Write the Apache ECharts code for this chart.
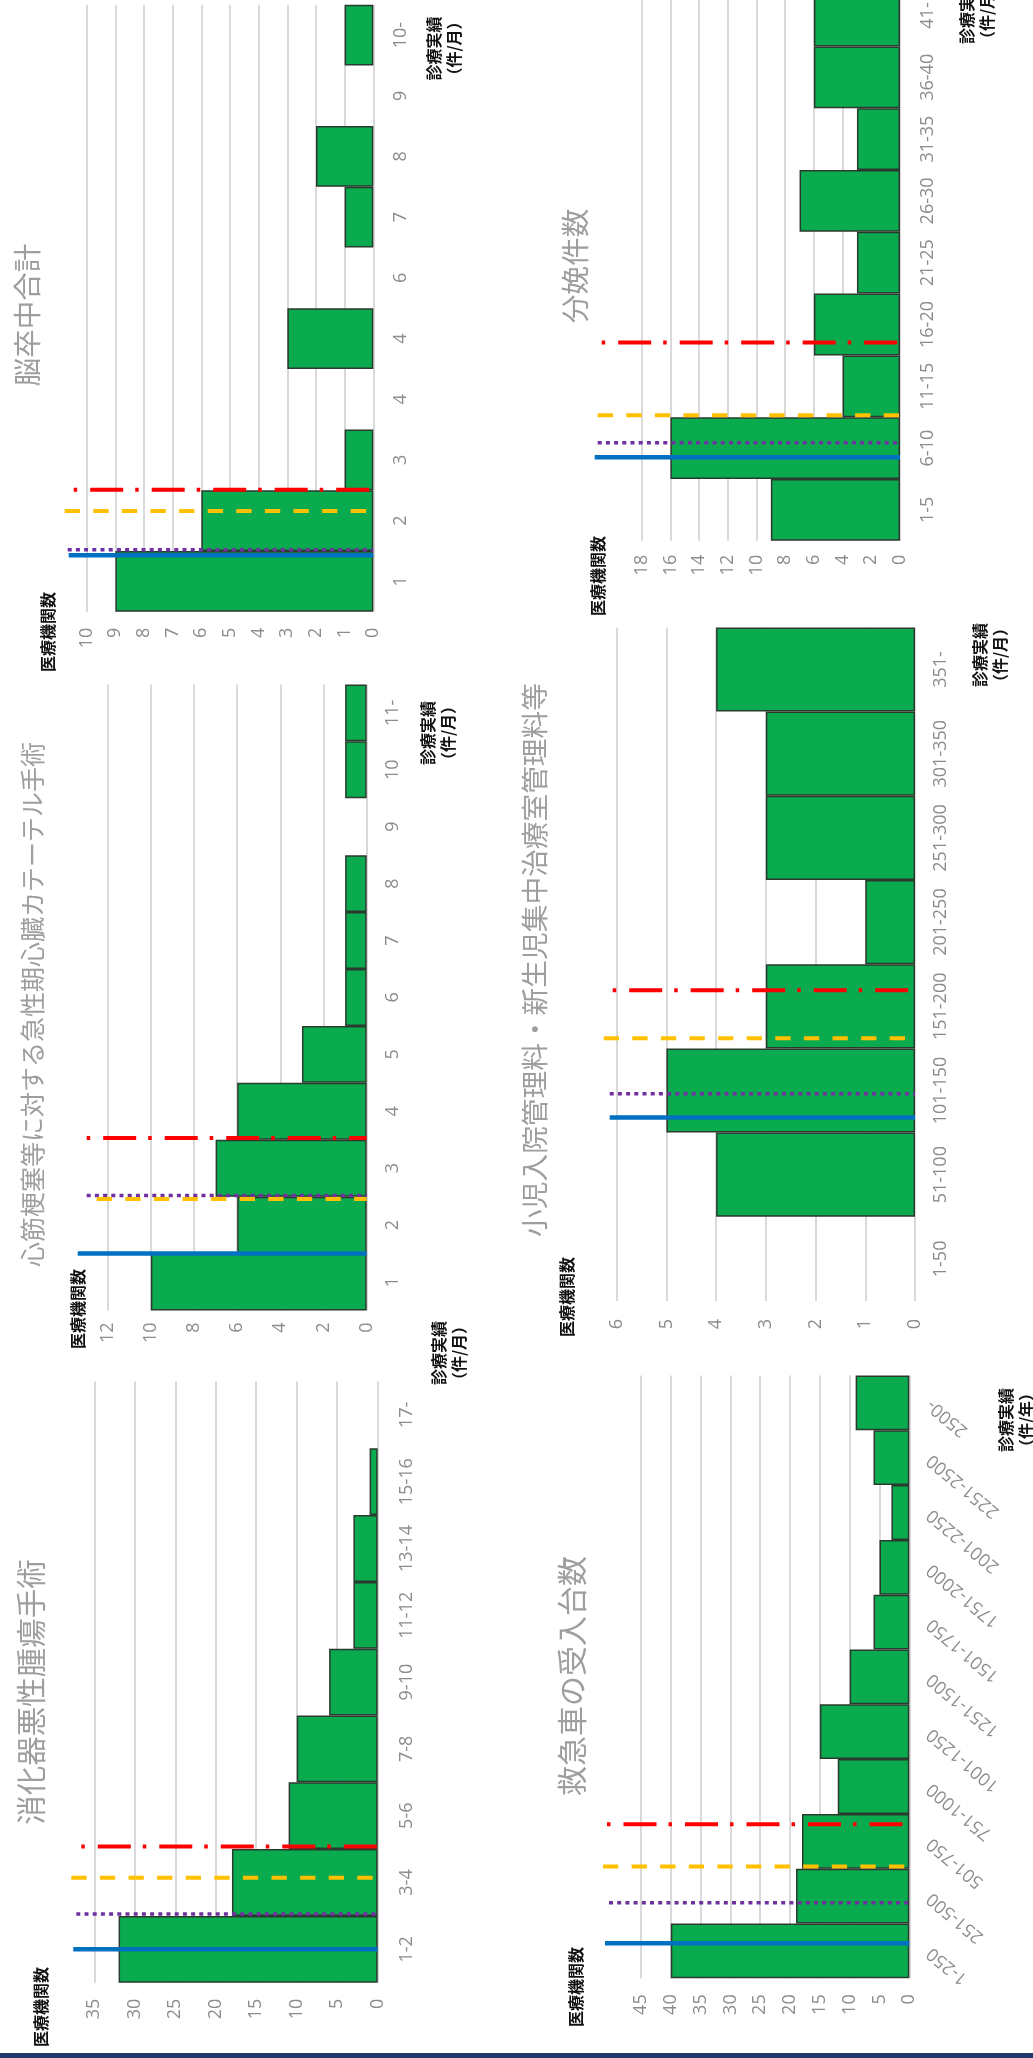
<!DOCTYPE html>
<html><head><meta charset="utf-8">
<script src="https://cdn.jsdelivr.net/npm/echarts@6/dist/echarts.min.js"></script>
<style>html,body{margin:0;padding:0;background:#fff}#c{width:1033px;height:2058px}</style>
</head><body><div id="c"></div>
<script>
// ---------- data ----------
const titleA = '消化器悪性腫瘍手術';
const catsA = ['1-2','3-4','5-6','7-8','9-10','11-12','13-14','15-16','17-'];
const valsA = [32,18,11,10,6,3,3,1,0];
const ticksA = [0,5,10,15,20,25,30,35];
const marksA = [0, 0.53, 1.07, 1.54]; // blue, purple, yellow, red (category position)

const titleB = '心筋梗塞等に対する急性期心臓カテーテル手術';
const catsB = ['1','2','3','4','5','6','7','8','9','10','11-'];
const valsB = [10,6,7,6,3,1,1,1,0,1,1];
const ticksB = [0,2,4,6,8,10,12];
const marksB = [0.5, 1.52, 1.46, 2.53];

const titleC = '脳卒中合計';
const catsC = ['1','2','3','4','4','6','7','8','9','10-'];
const valsC = [9,6,1,0,3,0,1,2,0,1];
const ticksC = [0,1,2,3,4,5,6,7,8,9,10];
const marksC = [0.43, 0.52, 1.16, 1.51];

const titleD = '救急車の受入台数';
const catsD = ['1-250','251-500','501-750','751-1000','1001-1250','1251-1500','1501-1750','1751-2000','2001-2250','2251-2500','2500-'];
const valsD = [40,19,18,12,15,10,6,5,3,6,9];
const ticksD = [0,5,10,15,20,25,30,35,40,45];
const marksD = [0.14, 0.88, 1.54, 2.31];

const titleE = '小児入院管理料・新生児集中治療室管理料等';
const catsE = ['1-50','51-100','101-150','151-200','201-250','251-300','301-350','351-'];
const valsE = [0,4,5,3,1,3,3,4];
const ticksE = [0,1,2,3,4,5,6];
const marksE = [1.68, 1.96, 2.62, 3.19];

const titleF = '分娩件数';
const catsF = ['1-5','6-10','11-15','16-20','21-25','26-30','31-35','36-40','41-'];
const valsF = [9,16,4,6,3,7,3,6,6];
const ticksF = [0,2,4,6,8,10,12,14,16,18];
const marksF = [0.85, 1.085, 1.53, 2.71];

const yName = '医療機関数';
const xNameMonth = '診療実績\n（件/月）';
const xNameYear = '診療実績\n（件/年）';

// ---------- layout / style ----------
const panels = [
  {title:titleA, cats:catsA, vals:valsA, ticks:ticksA, marks:marksA, xName:xNameMonth,
   grid:{left:94.3, top:1381.5, width:283.4, height:601.2}, ext:[-21,-18,-23,-13],
   catRot:90, catMargin:20, valMargin:16,
   t:{x:31, y:1692, s:29.5}, yn:{x:41, y:2007}, xn:{x:449, y:1353}},
  {title:titleB, cats:catsB, vals:valsB, ticks:ticksB, marks:marksB, xName:xNameMonth,
   grid:{left:107.7, top:684.4, width:259, height:626.1}, ext:[-30,-21,-11,-21],
   catRot:90, catMargin:17, valMargin:12,
   t:{x:32, y:1004.5, s:25}, yn:{x:78, y:1309}, xn:{x:438, y:733}},
  {title:titleC, cats:catsC, vals:valsC, ticks:ticksC, marks:marksC, xName:xNameMonth,
   grid:{left:86.7, top:4.7, width:286.6, height:607}, ext:[-18,-19,-22,-13],
   catRot:90, catMargin:19, valMargin:16,
   t:{x:27.5, y:315, s:28.5}, yn:{x:47.5, y:632}, xn:{x:443.5, y:48.5}},
  {title:titleD, cats:catsD, vals:valsD, ticks:ticksD, marks:marksD, xName:xNameYear,
   grid:{left:641, top:1375.5, width:268.3, height:602.8}, ext:[-36,-32,-38,-34],
   catRot:140, catMargin:20, valMargin:16,
   t:{x:572, y:1676, s:30}, yn:{x:576, y:1987}, xn:{x:1016, y:1420}},
  {title:titleE, cats:catsE, vals:valsE, ticks:ticksE, marks:marksE, xName:xNameMonth,
   grid:{left:616.7, top:627.4, width:298.3, height:673.6}, ext:[-7,-7,-13,-4],
   catRot:90, catMargin:17, valMargin:18,
   t:{x:534, y:960, s:27.7}, yn:{x:567, y:1297}, xn:{x:990, y:655}},
  {title:titleF, cats:catsF, vals:valsF, ticks:ticksF, marks:marksF, xName:xNameMonth,
   grid:{left:641.7, top:-15.4, width:258.3, height:556.2}, ext:[-47,-44,-44,-40],
   catRot:90, catMargin:19, valMargin:14,
   t:{x:575, y:266, s:28.7}, yn:{x:597.5, y:576}, xn:{x:976.5, y:12}}
];

const markStyles = [
  {stroke:'#0070C0', lineWidth:4.5},
  {stroke:'#7030A0', lineWidth:3.5, lineDash:[4,4.2]},
  {stroke:'#FFC000', lineWidth:4, lineDash:[15.3,13.3]},
  {stroke:'#FF0000', lineWidth:4, lineDash:[3.5,13,33,12]}
];

const FONT_CJK = '"Noto Sans CJK JP", "Noto Sans", sans-serif';
const FONT_NUM = '"Open Sans", "Noto Sans", sans-serif';
const GREEN = '#0AAB4E';

const grids = [], xAxes = [], yAxes = [], series = [], graphics = [];

panels.forEach((p, i) => {
  const max = p.ticks[p.ticks.length - 1];
  const step = p.ticks[1] - p.ticks[0];
  grids.push(Object.assign({outerBoundsMode:'none', containLabel:false}, p.grid));
  xAxes.push({
    gridIndex:i, type:'value', inverse:true, min:p.ticks[0], max:max, interval:step, position:'bottom',
    axisLine:{show:false}, axisTick:{show:false},
    splitLine:{show:true, lineStyle:{color:'#d9d9d9', width:2}},
    axisLabel:{rotate:90, margin:p.valMargin, color:'#8c8c8c', fontSize:18, fontFamily:FONT_NUM}
  });
  yAxes.push({
    gridIndex:i, type:'category', data:p.cats, position:'right',
    axisLine:{show:false}, axisTick:{show:false}, splitLine:{show:false},
    axisLabel:{rotate:p.catRot, interval:0, margin:p.catMargin, color:'#8c8c8c', fontSize:18, fontFamily:FONT_NUM}
  });
  series.push({
    type:'bar', xAxisIndex:i, yAxisIndex:i, barCategoryGap:'0%', silent:true,
    data:p.vals.map(v => v === 0 ? {value:v, itemStyle:{borderWidth:0}} : v),
    itemStyle:{color:GREEN, borderColor:'#2a3a2e', borderWidth:1.5}
  });
  series.push({
    type:'custom', xAxisIndex:i, yAxisIndex:i, silent:true, clip:false, z:10,
    encode:{x:0, y:1},
    data:p.marks.map((m, k) => [0, m, k]),
    renderItem:(params, api) => {
      const pos = api.value(1), k = api.value(2);
      const c0 = api.coord([0, 0]);
      const band = api.size([0, 1])[1];
      const y = c0[1] - pos * band;
      const xl = api.coord([max, 0])[0] + p.ext[k];
      const st = markStyles[k];
      return {type:'line', shape:{x1:xl, y1:y, x2:c0[0], y2:y},
        style:{stroke:st.stroke, lineWidth:st.lineWidth, lineDash:st.lineDash || null, lineCap:'butt', fill:null}};
    }
  });
  graphics.push({type:'text', x:p.t.x, y:p.t.y, rotation:Math.PI/2, silent:true,
    style:{text:p.title, fontSize:p.t.s, fontFamily:FONT_CJK, fill:'#9e9e9e', align:'center', verticalAlign:'middle'}});
  graphics.push({type:'text', x:p.yn.x, y:p.yn.y, rotation:Math.PI/2, silent:true,
    style:{text:yName, fontSize:16, fontWeight:'bold', fontFamily:FONT_CJK, fill:'#111', align:'center', verticalAlign:'middle'}});
  graphics.push({type:'text', x:p.xn.x, y:p.xn.y, rotation:Math.PI/2, silent:true,
    style:{text:p.xName, fontSize:16, fontWeight:'bold', lineHeight:20, fontFamily:FONT_CJK, fill:'#111', align:'center', verticalAlign:'middle'}});
});

graphics.push({type:'rect', silent:true, shape:{x:0, y:2053, width:1033, height:5}, style:{fill:'#1f3a68'}});

const chart = echarts.init(document.getElementById('c'), null, {renderer:'canvas'});
chart.setOption({
  animation:false,
  backgroundColor:'#ffffff',
  grid:grids, xAxis:xAxes, yAxis:yAxes, series:series, graphic:graphics
});
</script></body></html>
